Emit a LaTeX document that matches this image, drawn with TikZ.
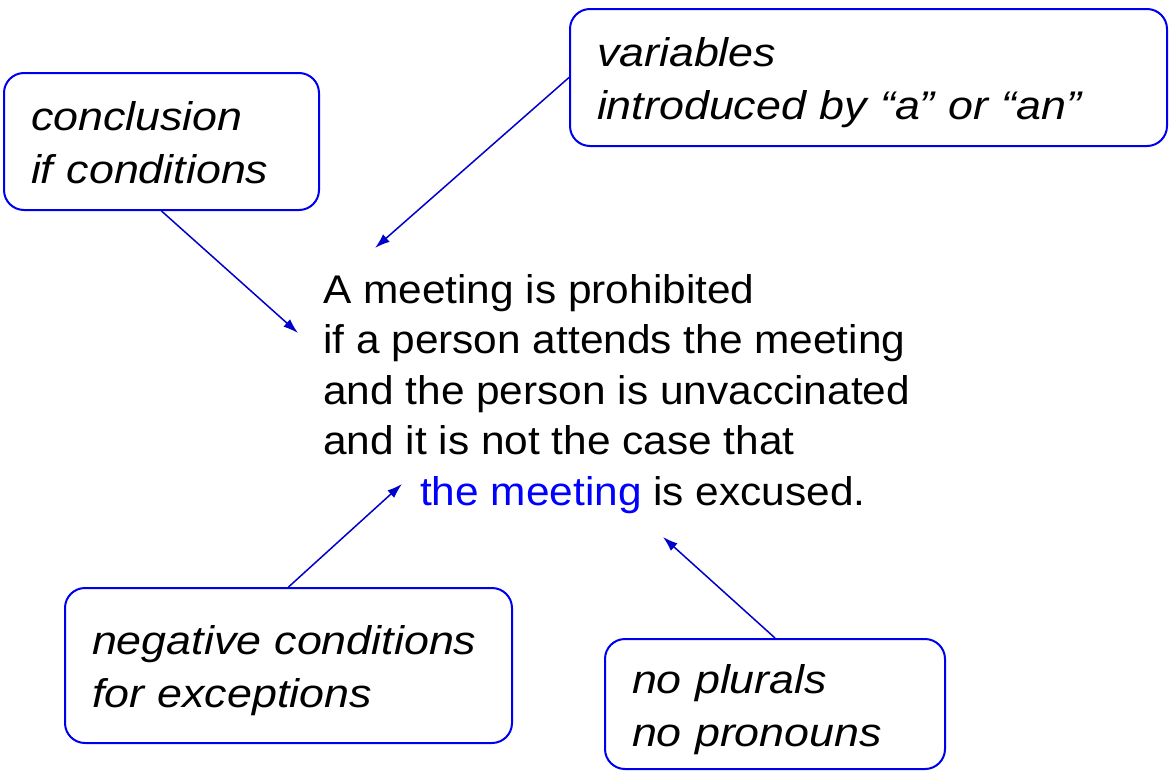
\documentclass[tikz,border=0pt]{standalone}
\usepackage{fontspec}
\setmainfont{Liberation Sans}[FakeStretch=1.06]
\newfontfamily\notefont{Liberation Sans}[FakeStretch=1.12]
\usetikzlibrary{arrows.meta}
\definecolor{boxblue}{RGB}{0,0,240}
\definecolor{arrowblue}{RGB}{0,0,205}
\newcommand{\boxstrut}{\rule[-10pt]{0pt}{51pt}}
\tikzset{
  note/.style={draw=boxblue, line width=2pt, rounded corners=20pt, align=left,
    inner xsep=27pt, inner ysep=0pt, font=\notefont\fontsize{40}{53}\selectfont\itshape},
  pointer/.style={draw=arrowblue, line width=1.5pt, -{Latex[length=15pt,width=10pt]}}
}

\begin{document}
\begin{tikzpicture}[x=1pt,y=-1pt]
  \useasboundingbox (0,0) rectangle (1171,774);
  % Riquadri
  \node[note, text width=261pt, minimum height=137pt] (concl) at (161.5,141.5)
    {\boxstrut conclusion\\if conditions\boxstrut};
  \node[note, text width=543pt, minimum height=137pt] (vars) at (868.5,77.5)
    {\boxstrut variables\\introduced by “a” or “an”\boxstrut};
  \node[note, text width=393pt, minimum height=155pt] (negat) at (288.5,665.5)
    {\boxstrut negative conditions\\for exceptions\boxstrut};
  \node[note, text width=286pt, minimum height=130pt] (plur) at (775,704)
    {\boxstrut no plurals\\no pronouns\boxstrut};
  % Regola
  \node[anchor=north west, inner sep=0pt, align=left, font=\fontsize{40}{50.5}\selectfont]
    (rule) at (323,267.6)
    {\strut A meeting is prohibited\\
     if a person attends the meeting\\
     and the person is unvaccinated\\
     and it is not the case that\\
     \hspace*{97pt}\textcolor{blue}{the meeting} is excused.};
  % Frecce
  \coordinate (concl-tip) at (298,333);
  \coordinate (vars-tip) at (375,248);
  \coordinate (negat-tip) at (402,484);
  \coordinate (plur-tip) at (663,537);
  \draw[pointer] (concl.south) -- (concl-tip);
  \draw[pointer] (vars.west) -- (vars-tip);
  \draw[pointer] (negat.north) -- (negat-tip);
  \draw[pointer] (plur.north) -- (plur-tip);
\end{tikzpicture}
\end{document}
